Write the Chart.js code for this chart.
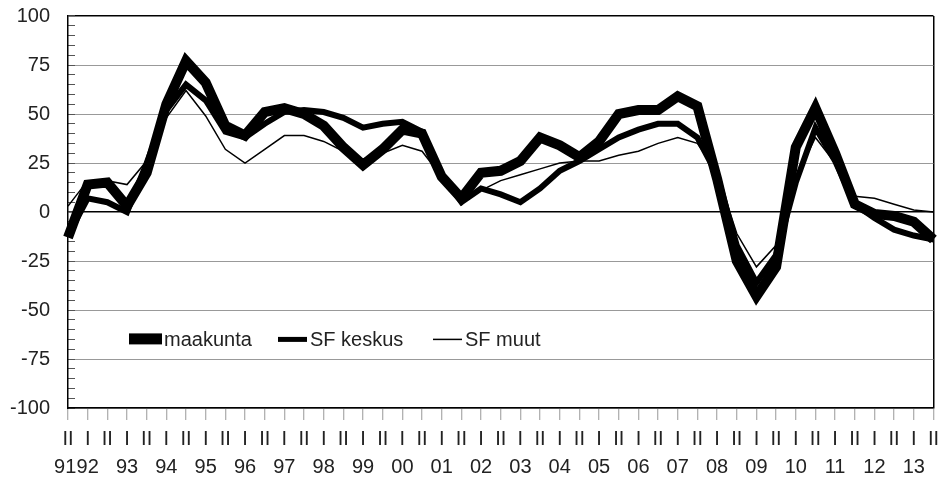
<!DOCTYPE html>
<html lang="fi">
<head>
    <meta charset="UTF-8">
    <title>maakunta / SF keskus / SF muut</title>
    <script src="https://cdn.jsdelivr.net/npm/chart.js"></script>
    <style>
        body { margin: 0; background: #fff; }
        #wrap { width: 944px; height: 479px; position: relative; }
    </style>
</head>
<body>
    <div id="wrap"><canvas id="chart"></canvas></div>

    <script>
        // puolivuodet ja vuodet (91 II ... 13 II)
        const halves = ["II","I","II","I","II","I","II","I","II","I","II","I","II","I","II",
                        "I","II","I","II","I","II","I","II","I","II","I","II","I","II","I",
                        "II","I","II","I","II","I","II","I","II","I","II","I","II","I","II"];
        const years = ["91","92","93","94","95","96","97","98","99","00","01","02",
                       "03","04","05","06","07","08","09","10","11","12","13"];

        const maakunta = [-13, 14, 15, 3, 20, 55, 77, 66, 44, 39, 51, 53, 50, 44, 33,
                          24, 32, 42, 40, 18, 7, 20, 21, 26, 38, 34, 28, 36, 50, 52,
                          52, 59, 54, 17, -25, -43, -28, 33, 53, 30, 4, -1, -2, -5, -14];
        const sfKeskus = [-12, 7, 5, 0, 25, 52, 65, 57, 41, 38, 45, 51, 52, 51, 48,
                          43, 45, 46, 41, 19, 5, 12, 9, 5, 12, 21, 26, 32, 38, 42,
                          45, 45, 38, 19, -17, -36, -22, 15, 43, 26, 4, -3, -9, -12, -14];
        const sfMuut = [3, 16, 16, 14, 26, 48, 62, 49, 32, 25, 32, 39, 39, 36, 31,
                        27, 30, 34, 31, 18, 5, 11, 16, 19, 22, 25, 26, 26, 29, 31,
                        35, 38, 35, 20, -11, -28, -17, 17, 38, 25, 8, 7, 4, 1, 0];

        // kaksirivinen luokka: puolivuosi + vuosi I-kohdan alla (91 vain II)
        const labels = halves.map((h, i) => {
            let y = "";
            if (i === 0) y = years[0] + " ";
            else if (h === "I") y = years[(i + 1) / 2];
            return [h, y];
        });

        Chart.defaults.font.family = '"Liberation Sans", Arial, sans-serif';
        Chart.defaults.font.size = 20;
        Chart.defaults.color = "#222";

        const legendInside = {
            id: "legendInside",
            afterDraw(chart) {
                const ctx = chart.ctx;
                const left = chart.chartArea.left;
                const cy = chart.scales.y.getPixelForValue(-65);
                const items = [
                    { x: 61, text: "maakunta", box: true },
                    { x: 210, text: "SF keskus", w: 5 },
                    { x: 365, text: "SF muut", w: 1.5 }
                ];
                ctx.save();
                ctx.fillStyle = "#000";
                ctx.strokeStyle = "#000";
                ctx.font = '20px "Liberation Sans", Arial, sans-serif';
                ctx.textBaseline = "middle";
                items.forEach(it => {
                    const x = left + it.x;
                    if (it.box) {
                        ctx.fillRect(x, cy - 6, 33, 11);
                    } else {
                        ctx.lineWidth = it.w;
                        ctx.beginPath();
                        ctx.moveTo(x, cy);
                        ctx.lineTo(x + 29, cy);
                        ctx.stroke();
                    }
                    ctx.fillStyle = "#222";
                    ctx.fillText(it.text, x + (it.box ? 35 : 32), cy + 1);
                    ctx.fillStyle = "#000";
                });
                ctx.restore();
            }
        };

        new Chart(document.getElementById("chart"), {
            type: "line",
            data: {
                labels: labels,
                datasets: [
                    { label: "maakunta", data: maakunta, borderColor: "#000", borderWidth: 10, order: 3 },
                    { label: "SF keskus", data: sfKeskus, borderColor: "#000", borderWidth: 6, order: 2 },
                    { label: "SF muut", data: sfMuut, borderColor: "#000", borderWidth: 1.5, order: 1 }
                ]
            },
            options: {
                responsive: true,
                maintainAspectRatio: false,
                animation: false,
                layout: { padding: { top: 16, right: 7, left: 0, bottom: 0 } },
                elements: {
                    point: { radius: 0 },
                    line: { tension: 0, borderJoinStyle: "miter", fill: false }
                },
                plugins: {
                    legend: { display: false },
                    tooltip: { enabled: false }
                },
                scales: {
                    x: {
                        offset: false,
                        border: { color: "#000", width: 1.5 },
                        grid: {
                            color: c => c.index === 44 ? "#000" : "rgba(0,0,0,0)",
                            lineWidth: 1.5,
                            tickColor: "#999",
                            tickWidth: 1,
                            tickLength: 12
                        },
                        ticks: {
                            autoSkip: false,
                            maxRotation: 0,
                            minRotation: 0,
                            padding: 5,
                            font: { size: 20, lineHeight: 1.4 }
                        },
                        afterFit: s => { s.height = 71; }
                    },
                    y: {
                        min: -100,
                        max: 100,
                        border: { color: "#000", width: 1.5 },
                        grid: {
                            color: c => {
                                const v = c.tick.value;
                                if (v === 0 || v === 100) return "#000";
                                if (v % 25 === 0) return "#999";
                                return "rgba(0,0,0,0)";
                            },
                            lineWidth: c => (c.tick.value === 0 || c.tick.value === 100) ? 1.5 : 1,
                            tickColor: "#555",
                            tickWidth: 1,
                            tickLength: -7
                        },
                        ticks: {
                            stepSize: 5,
                            autoSkip: false,
                            padding: 25,
                            callback: v => v % 25 === 0 ? v : ""
                        },
                        afterFit: s => {
                            s.width = 68;
                            s.paddingTop = 0;
                            s.paddingBottom = 0;
                        }
                    }
                }
            },
            plugins: [legendInside]
        });
    </script>
</body>
</html>
